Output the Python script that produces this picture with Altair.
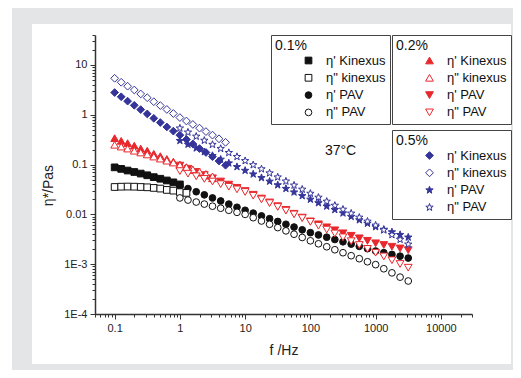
import altair as alt
import pandas as pd

FONT = "Liberation Sans"

# measurement frequencies (Hz)
f_kin = [0.1, 0.126, 0.158, 0.2, 0.251, 0.316, 0.398, 0.501, 0.631, 0.794,
         1.0, 1.26, 1.58, 2.0, 2.51, 3.16, 3.98, 5.01]
f_pav = [1.0, 1.33, 1.78, 2.37, 3.16, 4.22, 5.62, 7.5, 10, 13.3, 17.8, 23.7,
         31.6, 42.2, 56.2, 75, 100, 133, 178, 237, 316, 422, 562, 750, 1000,
         1334, 1778, 2371, 3162]

names = ["η' Kinexus", 'η" kinexus', "η' PAV", 'η" PAV']

# 0.1 %
c01_k1 = [0.088, 0.082, 0.076, 0.071, 0.066, 0.061, 0.056, 0.052, 0.048, 0.044, 0.040]
c01_k2 = [0.0355, 0.036, 0.0362, 0.036, 0.0355, 0.035, 0.034, 0.033, 0.031, 0.030, 0.028, 0.027]
c01_p1 = [0.0380, 0.0330, 0.0285, 0.0247, 0.0214, 0.0186, 0.0161, 0.0139, 0.0121, 0.0106,
          0.00933, 0.0082, 0.00721, 0.00634, 0.00557, 0.0049, 0.0043, 0.00387, 0.00348,
          0.00313, 0.00282, 0.00253, 0.00228, 0.00205, 0.00184, 0.0017, 0.00157, 0.00145, 0.00133]
c01_p2 = [0.0214, 0.0194, 0.0177, 0.0161, 0.0146, 0.0133, 0.0121, 0.0110, 0.0100, 0.00859,
          0.00737, 0.00633, 0.00543, 0.00467, 0.0040, 0.00344, 0.00295, 0.00257, 0.00224,
          0.00195, 0.0017, 0.00148, 0.00129, 0.00112, 0.00098, 0.00081, 0.00067, 0.00055, 0.00046]

# 0.2 %
c02_k1 = [0.34, 0.30, 0.27, 0.24, 0.21, 0.19, 0.165, 0.148, 0.13, 0.115, 0.10, 0.089,
          0.078, 0.069, 0.060, 0.053]
c02_k2 = [0.25, 0.23, 0.21, 0.19, 0.175, 0.16, 0.145, 0.132, 0.12, 0.11, 0.098, 0.088,
          0.080, 0.072, 0.065, 0.058]
c02_p1 = [0.0955, 0.0825, 0.0712, 0.0615, 0.0531, 0.0458, 0.0396, 0.0342, 0.0295, 0.0248,
          0.0208, 0.0174, 0.0146, 0.0123, 0.0103, 0.00863, 0.00724, 0.00631, 0.0055,
          0.00479, 0.00417, 0.00372, 0.00331, 0.00295, 0.00263, 0.00243, 0.00224, 0.00207, 0.00191]
c02_p2 = [0.0741, 0.0657, 0.0582, 0.0516, 0.0457, 0.0405, 0.0359, 0.0318, 0.0282, 0.0237,
          0.0200, 0.0168, 0.0141, 0.0119, 0.0100, 0.00841, 0.00708, 0.00592, 0.00495,
          0.00414, 0.00347, 0.0029, 0.00243, 0.00203, 0.0017, 0.00143, 0.0012, 0.00101, 0.00085]

# 0.5 %
c05_k1 = [2.8, 2.3, 1.88, 1.55, 1.27, 1.04, 0.85, 0.70, 0.57, 0.47, 0.39, 0.32, 0.26,
          0.21, 0.175, 0.144, 0.118, 0.097]
c05_k2 = [5.4, 4.5, 3.75, 3.15, 2.62, 2.2, 1.83, 1.53, 1.28, 1.06, 0.88, 0.75, 0.64,
          0.54, 0.46, 0.39, 0.33, 0.28]
c05_p1 = [0.302, 0.254, 0.214, 0.180, 0.151, 0.127, 0.107, 0.0902, 0.0759, 0.0642, 0.0543,
          0.0460, 0.0389, 0.0329, 0.0279, 0.0236, 0.0200, 0.0170, 0.01454, 0.0124, 0.0106,
          0.00904, 0.00772, 0.00659, 0.00562, 0.00498, 0.00442, 0.00391, 0.00347]
c05_p2 = [0.537, 0.445, 0.368, 0.305, 0.252, 0.209, 0.173, 0.144, 0.119, 0.0984, 0.0815,
          0.0675, 0.0559, 0.0463, 0.0384, 0.0318, 0.0263, 0.0219, 0.0182, 0.0151, 0.0126,
          0.0105, 0.0087, 0.00724, 0.00603, 0.00484, 0.00389, 0.00313, 0.00251]

# axis ticks
x_major = [0.1, 1, 10, 100, 1000, 10000]
x_labels = ["0.1", "1", "10", "100", "1000", "10000"]
y_major = [1e-4, 1e-3, 0.01, 0.1, 1, 10]
y_labels = ["1E-4", "1E-3", "0.01", "0.1", "1", "10"]

x_min, x_max = 0.05, 30000
y_min, y_max = 1e-4, 40

x_minor = [k * d for d in [0.01] + x_major for k in range(2, 10) if x_min <= k * d <= x_max]
y_minor = [k * d for d in y_major for k in range(2, 10) if y_min <= k * d <= y_max]


def label_expr(vals, labs):
    s = " : ".join(f"datum.value == {v!r} ? '{l}'" for v, l in zip(vals, labs))
    return s + " : ''"


def tick_cond(vals):
    arr = ",".join(repr(v) for v in vals)
    return {"condition": {"test": f"indexof([{arr}], datum.value) >= 0", "value": 5}, "value": 3}


x_axis = alt.Axis(values=x_major + x_minor, labelExpr=label_expr(x_major, x_labels),
                  tickSize=tick_cond(x_major), title="f /Hz", grid=False, zindex=2,
                  labelFont=FONT, labelFontSize=11, labelColor="#222", labelPadding=3,
                  titleFont=FONT, titleFontSize=14, titleFontWeight="normal", titleColor="#222",
                  titleY=36, titleBaseline="middle",
                  domainColor="#333", domainWidth=1.5, tickColor="#333", tickWidth=1,
                  labelFlush=False, labelOverlap=False)
y_axis = alt.Axis(values=y_major + y_minor, labelExpr=label_expr(y_major, y_labels),
                  tickSize=tick_cond(y_major), title="η*/Pas", grid=False, zindex=2,
                  labelFont=FONT, labelFontSize=11, labelColor="#222", labelPadding=3,
                  titleFont=FONT, titleFontSize=14, titleFontWeight="normal", titleColor="#222",
                  titleX=-47, titleY=150, titleBaseline="middle",
                  domainColor="#333", domainWidth=1.5, tickColor="#333", tickWidth=1,
                  labelFlush=False, labelOverlap=False)

x_scale = alt.Scale(type="log", domain=[x_min, x_max], nice=False)
y_scale = alt.Scale(type="log", domain=[y_min, y_max], nice=False)

STAR = ("M0,-1L0.235,-0.324L0.951,-0.309L0.38,0.124L0.588,0.809L0,0.4"
        "L-0.588,0.809L-0.38,0.124L-0.951,-0.309L-0.235,-0.324Z")


def make_df(k1, k2, p1, p2):
    rows = []
    for ordv, (nm, fs, vs) in enumerate([(names[0], f_kin, k1), (names[2], f_pav, p1),
                                         (names[1], f_kin, k2), (names[3], f_pav, p2)]):
        for f, v in zip(fs, vs):
            rows.append({"f": f, "eta": v, "series": nm, "ord": ordv})
    return pd.DataFrame(rows)


def conc_layer(df, title, color, shapes, sizes, lx, ly):
    leg = alt.Legend(title=title, orient="none", legendX=lx, legendY=ly,
                     titleFont=FONT, titleFontSize=14, titleFontWeight="normal", titleColor="#111",
                     labelFont=FONT, labelFontSize=13, labelColor="#111",
                     padding=4, titlePadding=1, rowPadding=3.3, symbolOffset=27, labelOffset=11,
                     strokeColor="#444", fillColor="white", symbolStrokeWidth=1)
    fills = [color, "white", color, "white"]
    return alt.Chart(df).mark_point(filled=False, opacity=1, strokeWidth=1).encode(
        x=alt.X("f:Q", scale=x_scale, axis=x_axis),
        y=alt.Y("eta:Q", scale=y_scale, axis=y_axis),
        shape=alt.Shape("series:N", scale=alt.Scale(domain=names, range=shapes), legend=leg),
        color=alt.Color("series:N", scale=alt.Scale(domain=names, range=[color] * 4), legend=leg),
        fill=alt.Fill("series:N", scale=alt.Scale(domain=names, range=fills), legend=leg),
        size=alt.Size("series:N", scale=alt.Scale(domain=names, range=sizes), legend=leg),
        order=alt.Order("ord:Q"),
    )


BLACK, RED, BLUE = "#111111", "#e8282d", "#34349a"

l01 = conc_layer(make_df(c01_k1, c01_k2, c01_p1, c01_p2), "0.1%", BLACK,
                 ["square", "square", "circle", "circle"], [45, 45, 60, 60], 176, 0)
l02 = conc_layer(make_df(c02_k1, c02_k2, c02_p1, c02_p2), "0.2%", RED,
                 ["triangle-up", "triangle-up", "triangle-down", "triangle-down"], [60, 60, 60, 60], 297, 0)
l05 = conc_layer(make_df(c05_k1, c05_k2, c05_p1, c05_p2), "0.5%", BLUE,
                 ["diamond", "diamond", STAR, STAR], [60, 60, 80, 80], 297, 95)

one = pd.DataFrame({"a": [0]})
frame = alt.Chart(one).mark_rect(color="#e4e5e6").encode(
    x=alt.value(-83), x2=alt.value(430), y=alt.value(-27), y2=alt.value(345))
panel = alt.Chart(one).mark_rect(color="white").encode(
    x=alt.value(-63), x2=alt.value(416), y=alt.value(-11), y2=alt.value(329))

ann = pd.DataFrame({"f": [290], "eta": [0.19], "txt": ["37°C"]})
label37 = alt.Chart(ann).mark_text(font=FONT, fontSize=14, color="#111").encode(
    x=alt.X("f:Q", scale=x_scale, axis=x_axis),
    y=alt.Y("eta:Q", scale=y_scale, axis=y_axis),
    text="txt:N")

chart = alt.layer(frame, panel, l01, l02, l05, label37).resolve_scale(
    shape="independent", color="independent", fill="independent", size="independent"
).properties(
    width=377, height=279,
    autosize=alt.AutoSizeParams(type="none"),
    padding={"left": 87, "top": 27, "right": 41, "bottom": 56},
    background="white",
).configure_view(stroke=None)

chart.save("out.html", embed_options={"renderer": "svg", "actions": False})
